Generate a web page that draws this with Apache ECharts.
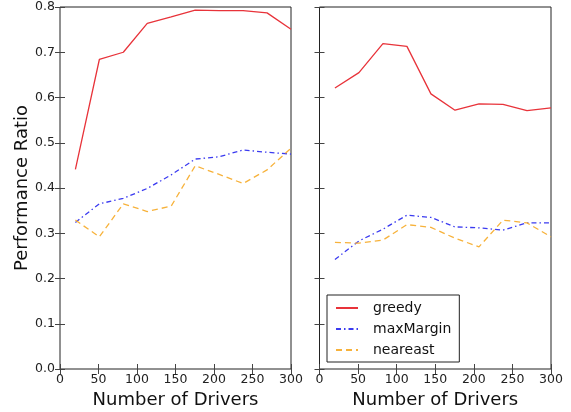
<!DOCTYPE html>
<html>
<head>
<meta charset="utf-8">
<script src="https://cdn.jsdelivr.net/npm/echarts@6/dist/echarts.min.js"></script>
<style>html,body{margin:0;padding:0;background:#fff}#c{width:571px;height:412px}</style>
</head>
<body>
<div id="c"></div>
<script>
var drivers = [20, 51.1, 82.2, 113.3, 144.4, 175.6, 206.7, 237.8, 268.9, 300];
var leftGreedy    = [0.441, 0.684, 0.700, 0.764, 0.778, 0.793, 0.792, 0.792, 0.787, 0.751];
var leftMaxMargin = [0.324, 0.365, 0.377, 0.399, 0.429, 0.464, 0.469, 0.484, 0.479, 0.475];
var leftNeareast  = [0.329, 0.292, 0.365, 0.348, 0.360, 0.449, 0.430, 0.410, 0.440, 0.488];
var rightGreedy    = [0.621, 0.655, 0.719, 0.713, 0.608, 0.572, 0.586, 0.585, 0.571, 0.577];
var rightMaxMargin = [0.242, 0.283, 0.309, 0.340, 0.335, 0.314, 0.312, 0.307, 0.323, 0.323];
var rightNeareast  = [0.280, 0.278, 0.285, 0.319, 0.313, 0.289, 0.270, 0.329, 0.323, 0.292];
var seriesNames = ['greedy', 'maxMargin', 'neareast'];
var xTitle = 'Number of Drivers';
var yTitle = 'Performance Ratio';

function pairs(ys){ return drivers.map(function(x,i){ return [x, ys[i]]; }); }

var FONT = 'DejaVu Sans';
var colors = {greedy:'#e8333a', maxMargin:'#3b3bf0', neareast:'#f7b23b'};
var styles = {greedy:'solid', maxMargin:[5,3,1.5,3], neareast:[6,4]};

function xAx(gi, pos, labels, name){
  return {type:'value', gridIndex:gi, position:pos, min:0, max:300, interval:50,
    axisLine:{show:false}, splitLine:{show:false},
    axisTick:{show:true, inside:true, length:5, lineStyle:{color:'#444', width:1}},
    axisLabel:{show:labels, color:'#222', fontFamily:FONT, fontSize:12.5, margin:4},
    name: name || '', nameLocation:'middle', nameGap:21,
    nameTextStyle:{fontFamily:FONT, fontSize:18, color:'#111'}};
}
function yAx(gi, pos, labels, name){
  return {type:'value', gridIndex:gi, position:pos, min:0, max:0.8, interval:0.1,
    axisLine:{show:false}, splitLine:{show:false},
    axisTick:{show:true, inside:true, length:5, lineStyle:{color:'#444', width:1}},
    axisLabel:{show:labels, color:'#222', fontFamily:FONT, fontSize:12.5, margin:5,
      formatter:function(v){ return v.toFixed(1); }},
    name: name || '', nameLocation:'middle', nameGap:28, nameRotate:90,
    nameTextStyle:{fontFamily:FONT, fontSize:18, color:'#111'}};
}
function ser(name, ys, idx){
  return {name:name, type:'line', xAxisIndex:idx, yAxisIndex:idx, data:pairs(ys),
    symbol:'none', showSymbol:false, animation:false,
    lineStyle:{color:colors[name], width:1.3, type:styles[name]},
    itemStyle:{color:colors[name]}};
}

var chart = echarts.init(document.getElementById('c'), null, {renderer:'canvas'});
chart.setOption({
  animation:false,
  backgroundColor:'#fff',
  grid:[
    {left:60, right:280, top:7, bottom:43, show:true, borderColor:'#222', borderWidth:1, backgroundColor:'transparent', containLabel:false, outerBoundsMode:'none'},
    {left:319.5, right:20, top:7, bottom:43, show:true, borderColor:'#222', borderWidth:1, backgroundColor:'transparent', containLabel:false, outerBoundsMode:'none'}
  ],
  xAxis:[
    xAx(0,'bottom',true,xTitle),
    xAx(1,'bottom',true,xTitle),
    xAx(0,'top',false),
    xAx(1,'top',false)
  ],
  yAxis:[
    yAx(0,'left',true,yTitle),
    yAx(1,'left',false),
    yAx(0,'right',false),
    yAx(1,'right',false)
  ],
  legend:{
    data:seriesNames, orient:'vertical', left:327, top:295,
    backgroundColor:'#fff', borderColor:'#222', borderWidth:1,
    padding:[6,8,5,8], itemWidth:22, itemHeight:14, itemGap:7,
    itemStyle:{opacity:0},
    textStyle:{fontFamily:FONT, fontSize:14, lineHeight:14, color:'#111', padding:[0,0,0,10]}
  },
  series:[
    ser('greedy', leftGreedy, 0),
    ser('maxMargin', leftMaxMargin, 0),
    ser('neareast', leftNeareast, 0),
    ser('greedy', rightGreedy, 1),
    ser('maxMargin', rightMaxMargin, 1),
    ser('neareast', rightNeareast, 1)
  ]
});
</script>
</body>
</html>
